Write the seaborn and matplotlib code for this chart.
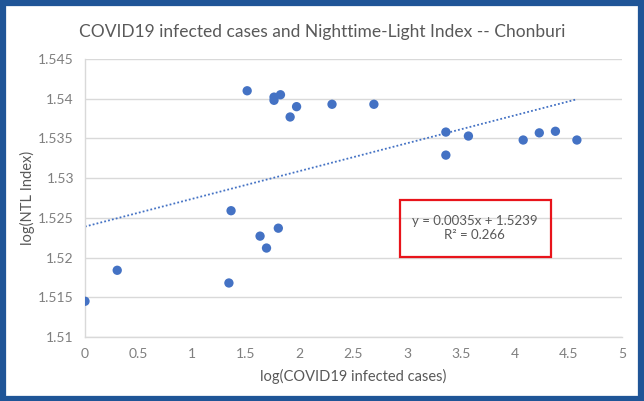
import numpy as np
import pandas as pd
import matplotlib.pyplot as plt
import seaborn as sns
from matplotlib.patches import Rectangle

# log(COVID19 infected cases) vs log(NTL index), Chonburi
log_cases = [0.00, 0.30, 1.34, 1.36, 1.63, 1.69, 1.80, 1.51, 1.76, 1.76,
             1.82, 1.91, 1.97, 2.30, 2.69, 3.36, 3.36, 3.57, 4.08, 4.23,
             4.38, 4.58]
log_ntl = [1.5145, 1.5184, 1.5168, 1.5259, 1.5227, 1.5212, 1.5237, 1.5410,
           1.5402, 1.5398, 1.5405, 1.5377, 1.5390, 1.5393, 1.5393, 1.5358,
           1.5329, 1.5353, 1.5348, 1.5357, 1.5359, 1.5348]
slope = 0.0035
intercept = 1.5239
r2 = 0.266
x_ticks = [0, 0.5, 1, 1.5, 2, 2.5, 3, 3.5, 4, 4.5, 5]
y_ticks = [1.51, 1.515, 1.52, 1.525, 1.53, 1.535, 1.54, 1.545]

df = pd.DataFrame({'x': log_cases, 'y': log_ntl})
trend_x = np.array([0, max(log_cases)])
trend = pd.DataFrame({'x': trend_x, 'y': slope * trend_x + intercept})

sns.set_style('white')
plt.rcParams['font.family'] = ['Lato', 'DejaVu Sans']
grey = '#595959'
tick_grey = '#7F7F7F'

fig = plt.figure(figsize=(6.44, 4.01), dpi=100)
ax = fig.add_axes([85 / 644, 1 - 337 / 401, 537 / 644, 278 / 401])

sns.lineplot(data=trend, x='x', y='y', ax=ax, color='#4472C4',
             linestyle=(0, (1, 1.2)), linewidth=1.3)
sns.scatterplot(data=df, x='x', y='y', ax=ax, color='#4472C4', s=45,
                edgecolor='none', zorder=3)

ax.set_xlim(0, 5)
ax.set_ylim(1.51, 1.545)
ax.set_xticks(x_ticks)
ax.set_xticklabels([f'{t:g}' for t in x_ticks])
ax.set_yticks(y_ticks)
ax.set_yticklabels([f'{t:g}' for t in y_ticks])
ax.tick_params(colors=tick_grey, labelsize=10, length=0, pad=8)
ax.grid(axis='y', color='#D9D9D9', linewidth=1)
for side in ['top', 'right']:
    ax.spines[side].set_visible(False)
for side in ['left', 'bottom']:
    ax.spines[side].set_color('#D9D9D9')
    ax.spines[side].set_linewidth(1)
ax.set_xlabel('log(COVID19 infected cases)', color=grey, fontsize=10.5,
              labelpad=6)
ax.set_ylabel('log(NTL Index)', color=grey, fontsize=10.5)
ax.yaxis.set_label_coords(-50 / 537, 0.5)

fig.text(0.5, 1 - 32 / 401, 'COVID19 infected cases and Nighttime-Light Index -- Chonburi',
         ha='center', va='center', color=grey, fontsize=12.5)

ax.text(3.63, 1.5237, f'y = {slope}x + {intercept}\nR² = {r2}',
        ha='center', va='center', color=grey, fontsize=9.5,
        linespacing=1.25)
fig.patches.append(Rectangle((400 / 644, 1 - 257 / 401), 151 / 644, 57 / 401,
                             transform=fig.transFigure, fill=False,
                             edgecolor='#E8141B', linewidth=1.6))

# blue frame around the picture
fig.patches.append(Rectangle((0.004, 0.004), 0.992, 0.988,
                             transform=fig.transFigure, fill=False,
                             edgecolor='#1F5597', linewidth=4.5))

plt.savefig('out.png', dpi=100)
